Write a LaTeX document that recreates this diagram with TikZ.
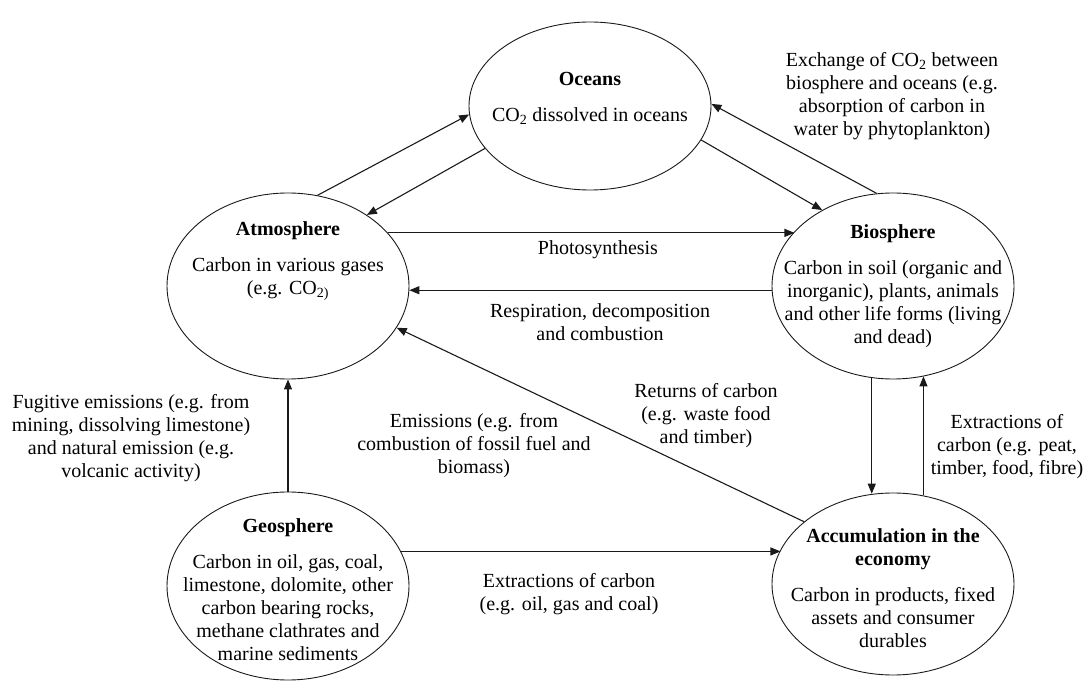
\documentclass[tikz,border=0pt]{standalone}
\usepackage{fontspec}
\setmainfont{Liberation Serif}
\usepackage{tikz}
\usetikzlibrary{arrows.meta}
\usetikzlibrary{shapes.geometric}
\definecolor{linecolor}{HTML}{1A1A1A}
\colorlet{inkcolor}{black}
\tikzstyle{pool} = [
    draw=linecolor,
    ellipse,
    line width=0.9pt,
    minimum width=242pt,
    inner sep=0pt
    ]
\tikzstyle{flow} = [
    -{Triangle[length=10pt,width=8pt]},
    line width=1.1pt,
    draw=linecolor
    ]
\tikzstyle{caption} = [
    text=inkcolor,
    font=\fontsize{20}{23}\selectfont,
    align=center,
    inner sep=0pt
    ]

\begin{document}
\begin{tikzpicture}[x=1pt,y=-1pt]
\useasboundingbox (0,0) rectangle (1088,684);

% carbon pools
\node[pool, minimum height=168pt] (oceans) at (590,106) {};
\node[pool, minimum height=186pt] (atmos) at (288,286) {};
\node[pool, minimum height=186pt] (bios) at (893,286) {};
\node[pool, minimum height=188pt] (geos) at (288,586) {};
\node[pool, minimum height=182pt] (econ) at (893,584) {};

\node[caption] (oceans-t) at (590,98) {\textbf{Oceans}\\[13pt]CO\textsubscript{2} dissolved in oceans};
\node[caption] (atmos-t) at (288,261) {\textbf{Atmosphere}\\[13pt]Carbon in various gases\\(e.g. CO\textsubscript{2)}};
\node[caption] (bios-t) at (893,286) {\textbf{Biosphere}\\[13pt]Carbon in soil (organic and\\inorganic), plants, animals\\and other life forms (living\\and dead)};
\node[caption] (geos-t) at (288,590) {\textbf{Geosphere}\\[13pt]Carbon in oil, gas, coal,\\limestone, dolomite, other\\carbon bearing rocks,\\methane clathrates and\\marine sediments};
\node[caption] (econ-t) at (893,588) {\textbf{Accumulation in the}\\\textbf{economy}\\[13pt]Carbon in products, fixed\\assets and consumer\\durables};

% flows
\draw[flow] (atmos.72.6) -- (oceans.184);
\draw[flow] (oceans.202) -- (atmos.42.8);
\draw[flow] (oceans.-17.7) -- (bios.133);
\draw[flow] (bios.100.6) -- (oceans.1.4);
\draw[flow] (atmos.28.7) -- (bios.151.3 |- atmos.28.7);
\draw[flow] (bios.182.8) -- (atmos.-2.8 |- bios.182.8);
\draw[flow] (econ.145.5) -- (atmos.-21.4);
\draw[flow] (bios.257.7) -- (econ.102.6 -| bios.257.7);
\draw[flow] (econ.71.2) -- (bios.-71.6 -| econ.71.2);
\draw[flow] (geos.north) -- (atmos.south);
\draw[flow] (geos.17.8) -- (econ.163.1 |- geos.17.8);

\node[caption] (exch) at (892,96) {Exchange of CO\textsubscript{2} between\\biosphere and oceans (e.g.\\absorption of carbon in\\water by phytoplankton)};
\node[caption] (photo) at (598,250) {Photosynthesis};
\node[caption] (resp) at (600,322) {Respiration, decomposition\\and combustion};
\node[caption] (returns) at (706,416) {Returns of carbon\\(e.g. waste food\\and timber)};
\node[caption] (extr-bio) at (1007,447) {Extractions of\\carbon (e.g. peat,\\timber, food, fibre)};
\node[caption] (fugit) at (131,438) {Fugitive emissions (e.g. from\\mining, dissolving limestone)\\and natural emission (e.g.\\volcanic activity)};
\node[caption] (emiss) at (474,446) {Emissions (e.g. from\\combustion of fossil fuel and\\biomass)};
\node[caption] (extr-geo) at (569,594) {Extractions of carbon\\(e.g. oil, gas and coal)};
\end{tikzpicture}
\end{document}
